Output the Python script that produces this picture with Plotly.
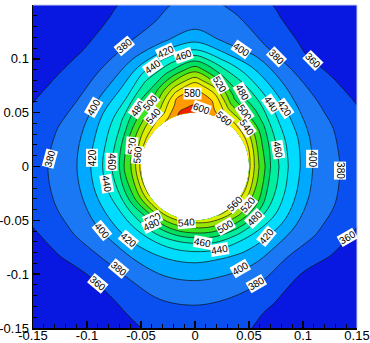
import numpy as np
import plotly.graph_objects as go

# ---------------- data ----------------
# radial stations (distance from hole centre) and polar angles (deg)
radius = [0.05, 0.055, 0.06, 0.065, 0.07, 0.075, 0.08, 0.09, 0.10, 0.11,
          0.12, 0.13, 0.14, 0.15, 0.165, 0.18, 0.20, 0.22]
angle_deg = [0, 15, 30, 45, 60, 75, 90, 105, 120, 135, 150, 165, 180,
             195, 210, 225, 240, 255, 270, 285, 300, 315, 330, 345, 360]

# temperature at (angle row, radius column)
temperature = [
    [565, 540, 517, 500, 480, 467, 455, 432, 416, 398.5, 391, 383, 376.6, 371, 363, 355, 345, 335],    # 0
    [570, 545, 520, 500, 483, 468, 455, 434, 418, 399, 391, 382, 375, 369, 360, 352, 342, 332],        # 15
    [575, 553, 533, 510, 494, 477, 460, 436, 419, 400, 389, 378, 369, 362, 354, 345, 336, 328],        # 30
    [577, 557, 540, 517, 496, 485, 473, 445, 424, 404, 389, 376, 365, 357, 347, 339, 330, 322],        # 45
    [580, 562, 548, 527, 507, 494, 480, 458, 433, 412, 394, 380, 372, 365, 357, 350, 341, 333],        # 60
    [592, 588, 583, 577, 560, 540, 516, 477, 446, 417, 396, 391, 384, 378, 370, 360, 350, 340],        # 75
    [615, 604, 596, 590, 586, 573, 552, 512, 472, 434, 409, 397, 392, 387, 380, 373, 364, 355],        # 90
    [606, 597, 589, 582, 564, 544, 524, 484, 453, 423, 398, 389, 380, 376, 369, 362, 354, 345],        # 105
    [583, 567, 551, 534, 517, 503, 487, 464, 437, 410, 391, 379, 372, 365, 357, 350, 341, 333],        # 120
    [572, 557, 540, 520, 503, 489, 474, 440, 418, 400, 386, 375, 367.5, 359.5, 350, 342, 333, 325],    # 135
    [568, 550, 528, 510, 491, 473, 458, 435, 417, 398.5, 384, 376, 370, 363, 354, 347, 338, 330],      # 150
    [566, 540, 520, 504, 483, 465, 452, 431, 414, 398.7, 392, 381.5, 375, 369, 360.5, 353, 344, 335],  # 165
    [566, 540, 517, 503, 480, 466, 452, 431, 414, 399, 391.5, 384, 377.5, 371.4, 363, 355, 345, 335],  # 180
    [563, 535, 513, 496, 477, 460, 447, 430, 411, 397.6, 390, 383, 376, 370, 361, 353, 343, 333],      # 195
    [561, 535, 512, 492, 472, 455, 442, 425, 408, 396, 386, 378.6, 370, 361.7, 352, 345, 336, 328],    # 210
    [556, 530, 504, 481, 466, 453, 440, 423, 404, 391.6, 381, 371, 361, 355, 347, 339, 331, 323],      # 225
    [553, 530, 508, 484, 467, 452, 438, 420, 404, 392, 381, 372, 364, 357, 349, 341, 333, 325],        # 240
    [551, 528, 508, 485, 464, 450, 438, 419, 405, 396, 386, 378, 373, 367, 358, 351, 343, 335],        # 255
    [550, 528, 508, 485, 464, 450, 438, 419, 406, 396, 387.5, 379, 374.6, 369.8, 362.4, 355, 345, 335],# 270
    [556, 532, 512, 491, 471, 453, 440, 418, 405, 395, 385, 377, 372, 366, 360, 352, 343, 335],        # 285
    [562, 537, 516, 496, 476, 457, 442, 422, 408, 394, 383, 374, 366, 357, 350, 342, 333, 325],        # 300
    [563, 544, 524, 504, 484, 463, 448, 426, 409, 392, 380, 370, 360, 354, 346, 338, 330, 322],        # 315
    [565, 545, 520, 508, 488, 469, 455, 433, 414, 397, 386, 378.6, 371.7, 362, 352, 345, 336, 328],    # 330
    [565, 540, 517, 500, 480, 467, 455, 432, 415, 398.5, 391, 383, 376, 370, 361, 354, 344, 334],      # 345
    [565, 540, 517, 500, 480, 467, 455, 432, 416, 398.5, 391, 383, 376.6, 371, 363, 355, 345, 335],    # 360
]

level_start, level_end, level_step = 360, 600, 20

# contour labels: text, x, y, rotation
label_text = ["380", "420", "460", "440", "400", "480", "500", "540", "580", "600",
              "400", "380", "360", "520", "480", "500", "560", "540", "440", "420",
              "460", "400", "380", "380", "420", "460", "520", "560", "440", "400",
              "420", "380", "360", "500", "480", "540", "560", "520", "480", "500",
              "460", "440", "420", "400", "380", "360"]
label_x = [-0.065, -0.027, -0.011, -0.039, -0.094, -0.053, -0.041, -0.038, -0.002, 0.006,
           0.043, 0.075, 0.109, 0.023, 0.044, 0.046, 0.027, 0.048, 0.071, 0.083,
           0.077, 0.108, 0.134, -0.134, -0.095, -0.077, -0.059, -0.053, -0.082, -0.086,
           -0.062, -0.071, -0.090, -0.039, -0.040, -0.008, 0.037, 0.049, 0.055, 0.028,
           0.007, 0.023, 0.066, 0.042, 0.057, 0.141]
label_y = [0.112, 0.107, 0.103, 0.093, 0.055, 0.054, 0.059, 0.047, 0.068, 0.054,
           0.109, 0.102, 0.098, 0.076, 0.069, 0.050, 0.045, 0.036, 0.058, 0.054,
           0.016, 0.007, -0.004, 0.007, 0.008, 0.004, 0.019, 0.011, -0.016, -0.059,
           -0.068, -0.095, -0.109, -0.048, -0.054, -0.052, -0.034, -0.035, -0.048, -0.056,
           -0.071, -0.077, -0.065, -0.095, -0.109, -0.066]
label_rot = [-40, -25, -20, -35, -60, -55, -50, -50, 0, 20,
             35, 45, 45, 60, 60, 55, 40, 55, 55, 55,
             80, 90, 90, -75, -90, 90, -85, -85, 80, 50,
             40, 40, 40, -25, -25, -5, -45, -50, -45, -30,
             10, -10, -50, -30, -30, -30]

tick_vals = [-0.15, -0.1, -0.05, 0, 0.05, 0.1, 0.15]
tick_text = ["-0.15", "-0.1", "-0.05", "0", "0.05", "0.1", "0.15"]

# band colours: below 360, 360-380, ..., 580-600, above 600
band_colors = ["#0818e0", "#0a50f0", "#1a78f5", "#00a8ff", "#00dcff", "#00f0dc",
               "#00eea0", "#00e060", "#3ce61e", "#9ae600", "#dcee00", "#ffe600",
               "#ff9a00", "#ee2200"]

# ---------------- figure ----------------
R, TH = np.meshgrid(np.array(radius), np.radians(angle_deg))
X = R * np.cos(TH)
Y = R * np.sin(TH)

n = len(band_colors) - 1
colorscale = [[k / n, c] for k, c in enumerate(band_colors)]

hidden_axis = dict(showgrid=False, showline=False, showticklabels="none",
                   startline=False, endline=False, minorgridcount=0,
                   smoothing=1, gridwidth=0, linewidth=0)

fig = go.Figure()
fig.add_trace(go.Carpet(a=radius, b=angle_deg, x=X, y=Y, carpet="c",
                        aaxis=hidden_axis, baxis=hidden_axis))
fig.add_trace(go.Contourcarpet(
    a=radius, b=angle_deg, z=temperature, carpet="c",
    autocontour=False,
    contours=dict(start=level_start, end=level_end, size=level_step,
                  coloring="fill", showlines=True),
    line=dict(color="#111111", width=0.7, smoothing=1),
    colorscale=colorscale, showscale=False))

for t, x, y, r in zip(label_text, label_x, label_y, label_rot):
    fig.add_annotation(x=x, y=y, text=t, showarrow=False, textangle=r,
                       bgcolor="white", borderpad=0,
                       font=dict(family="Arial, Liberation Sans", size=10, color="black"))

axis_common = dict(range=[-0.15, 0.15], tickvals=tick_vals, ticktext=tick_text,
                   ticks="inside", ticklen=7, tickwidth=1.5, tickcolor="black",
                   showline=True, linecolor="black", linewidth=1.5,
                   showgrid=False, zeroline=False, automargin=False,
                   tickfont=dict(family="Arial, Liberation Sans", size=13, color="black"),
                   minor=dict(tickmode="linear", tick0=0, dtick=0.01, ticks="inside",
                              ticklen=4, tickwidth=1, tickcolor="black"))

fig.update_xaxes(**axis_common, ticklabelstandoff=-5)
fig.update_yaxes(**axis_common)

# light frame on top and right
fig.add_shape(type="line", xref="paper", yref="paper", x0=0, x1=1, y0=1, y1=1,
              line=dict(color="#c8cdf0", width=1))
fig.add_shape(type="line", xref="paper", yref="paper", x0=1, x1=1, y0=0, y1=1,
              line=dict(color="#c8cdf0", width=1))

fig.update_layout(width=370, height=343, margin=dict(l=33, r=13, t=5, b=15),
                  plot_bgcolor="white", paper_bgcolor="white", showlegend=False,
                  hovermode=False)

fig.write_html("out.html", config={"displayModeBar": False, "staticPlot": True},
               post_script="document.body.style.margin='0px';"
                           "document.body.style.overflow='hidden';")
